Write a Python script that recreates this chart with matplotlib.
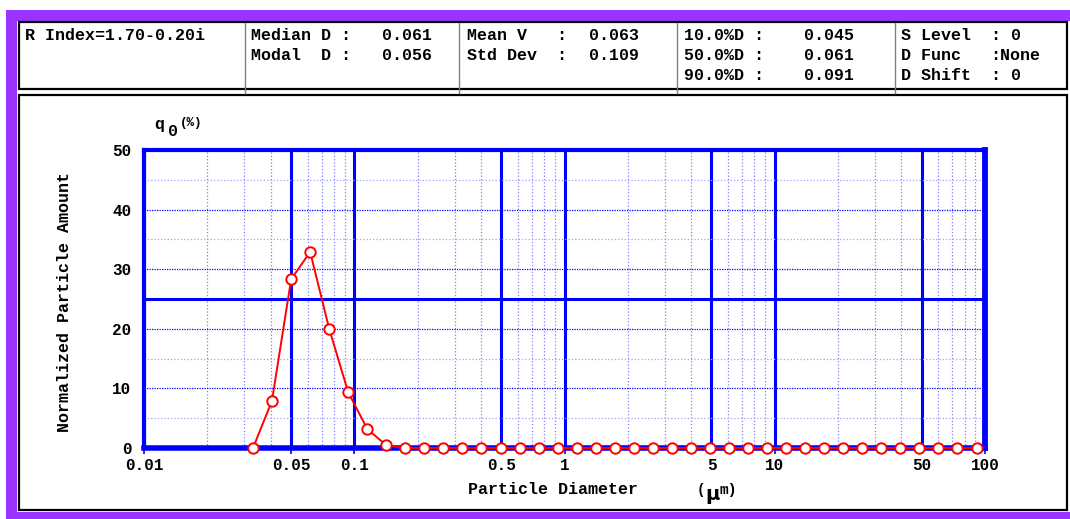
import numpy as np
import matplotlib
matplotlib.use('Agg')
import matplotlib.pyplot as plt
from matplotlib.patches import Rectangle
from matplotlib.lines import Line2D

# particle diameter bins (um) and normalized amount q0 (%)
diameter = [0.0330, 0.0406, 0.0501, 0.0617, 0.0760, 0.0936, 0.1153, 0.1420,
            0.1749, 0.2156, 0.2655, 0.3270, 0.4029, 0.4963, 0.6114, 0.7527,
            0.9276, 1.143, 1.408, 1.734, 2.136, 2.632, 3.242, 3.994, 4.919,
            6.059, 7.464, 9.194, 11.33, 13.95, 17.19, 21.17, 26.09, 32.13,
            39.58, 48.75, 60.05, 73.98, 91.13]
q0 = [0.0, 7.9, 28.3, 32.9, 20.0, 9.35, 3.2, 0.45] + [0.0] * 31

xtick_vals = [0.01, 0.05, 0.1, 0.5, 1, 5, 10, 50, 100]
xtick_labels = ['0.01', '0.05', '0.1', '0.5', '1', '5', '10', '50', '100']
ytick_vals = [0, 10, 20, 30, 40, 50]

header = [
    # (x, row, text)
    (25, 0, 'R Index=1.70-0.20i'),
    (251, 0, 'Median D :'), (382, 0, '0.061'),
    (251, 1, 'Modal  D :'), (382, 1, '0.056'),
    (467, 0, 'Mean V   :'), (589, 0, '0.063'),
    (467, 1, 'Std Dev  :'), (589, 1, '0.109'),
    (684, 0, '10.0%D :'), (804, 0, '0.045'),
    (684, 1, '50.0%D :'), (804, 1, '0.061'),
    (684, 2, '90.0%D :'), (804, 2, '0.091'),
    (901, 0, 'S Level  : 0'),
    (901, 1, 'D Func'), (990, 1, ':None'),
    (901, 2, 'D Shift  : 0'),
]
dividers = [245, 459, 677, 895]

W, H = 1070, 519
FONT = 'Liberation Mono'
BLUE = '#0000ff'
PURPLE = '#9933ff'

plt.rcParams['font.family'] = FONT
plt.rcParams['font.weight'] = 'bold'

fig = plt.figure(figsize=(W / 100, H / 100), dpi=100)


def fx(x):
    return x / W


def fy(y):
    return 1 - y / H


def box(x0, y0, x1, y1, **kw):
    fig.patches.append(Rectangle((fx(x0), fy(y1)), (x1 - x0) / W, (y1 - y0) / H,
                                 transform=fig.transFigure, zorder=0, **kw))


# purple frame
box(6, 10, 1070, 21, facecolor=PURPLE, edgecolor='none')
box(6, 10, 17, 519, facecolor=PURPLE, edgecolor='none')
box(6, 512, 1070, 519, facecolor=PURPLE, edgecolor='none')

# header and plot boxes
box(19, 22, 1067, 89, facecolor='white', edgecolor='black', linewidth=1.6)
box(19, 95, 1067, 510, facecolor='white', edgecolor='black', linewidth=1.6)
for x in dividers:
    fig.lines.append(Line2D([fx(x), fx(x)], [fy(23), fy(93)], transform=fig.transFigure,
                            color='#808080', linewidth=1.0, zorder=0.5))

row_y = [35, 55, 75]
for x, r, t in header:
    fig.text(fx(x), fy(row_y[r]), t, fontsize=12, fontweight='bold',
             ha='left', va='center', color='black')

ax = fig.add_axes([fx(144), fy(448), (985 - 144) / W, (448 - 150) / H])
ax.set_zorder(2)
ax.set_xscale('log')
ax.set_xlim(0.01, 100)
ax.set_ylim(0, 50)

minor = [m * 10.0 ** e for e in range(-2, 2) for m in (2, 3, 4, 6, 7, 8, 9)]
ax.set_xticks(xtick_vals)
ax.set_xticklabels(xtick_labels)
ax.set_xticks(minor, minor=True)
ax.set_xticklabels([], minor=True)
ax.set_yticks(ytick_vals)
ax.set_yticks([5, 15, 35, 45], minor=True)

ax.grid(True, which='major', axis='x', color=BLUE, linewidth=2.2, linestyle='-')
ax.grid(True, which='minor', axis='x', color='#8080ff', linewidth=0.9, linestyle=':')
ax.grid(True, which='major', axis='y', color=BLUE, linewidth=0.9, linestyle=(0, (1, 1)))
ax.grid(True, which='minor', axis='y', color='#a0a0ff', linewidth=0.9, linestyle=':')
ax.axhline(25, color=BLUE, linewidth=2.2)

for side, lw in [('left', 3.0), ('top', 3.0), ('right', 4.2), ('bottom', 4.0)]:
    ax.spines[side].set_color(BLUE)
    ax.spines[side].set_linewidth(lw)

ax.tick_params(which='major', axis='x', length=4, width=1.2, color=BLUE,
               direction='out', pad=3.5, labelsize=11.5)
ax.tick_params(which='major', axis='y', length=0, pad=9, labelsize=11.5)
ax.tick_params(which='minor', length=0)
for lab in ax.get_xticklabels() + ax.get_yticklabels():
    lab.set_fontweight('bold')

ax.plot(diameter, q0, color='red', linewidth=1.4, marker='o', markersize=7.5,
        markerfacecolor='white', markeredgecolor='red', markeredgewidth=1.4,
        clip_on=False, zorder=5)

# axis labels
fig.text(fx(65), fy(302), 'Normalized Particle Amount', rotation=90, fontsize=12,
         fontweight='bold', ha='center', va='center')
fig.text(fx(468), fy(490), 'Particle Diameter', fontsize=12, fontweight='bold',
         ha='left', va='center')
fig.text(fx(697), fy(490), '(', fontsize=10, fontweight='bold', ha='left', va='center')
fig.text(fx(705), fy(495), 'μ', fontsize=14, fontweight='bold', ha='left', va='center',
         family=['DejaVu Sans'])
fig.text(fx(720), fy(490), 'm)', fontsize=10.5, fontweight='bold', ha='left', va='center')
fig.text(fx(154), fy(125), 'q', fontsize=12, fontweight='bold', ha='left', va='center')
fig.text(fx(168), fy(131), '0', fontsize=12, fontweight='bold', ha='left', va='center')
fig.text(fx(180), fy(123), '(%)', fontsize=9, fontweight='bold', ha='left', va='center')

fig.savefig('out.png', dpi=100)
